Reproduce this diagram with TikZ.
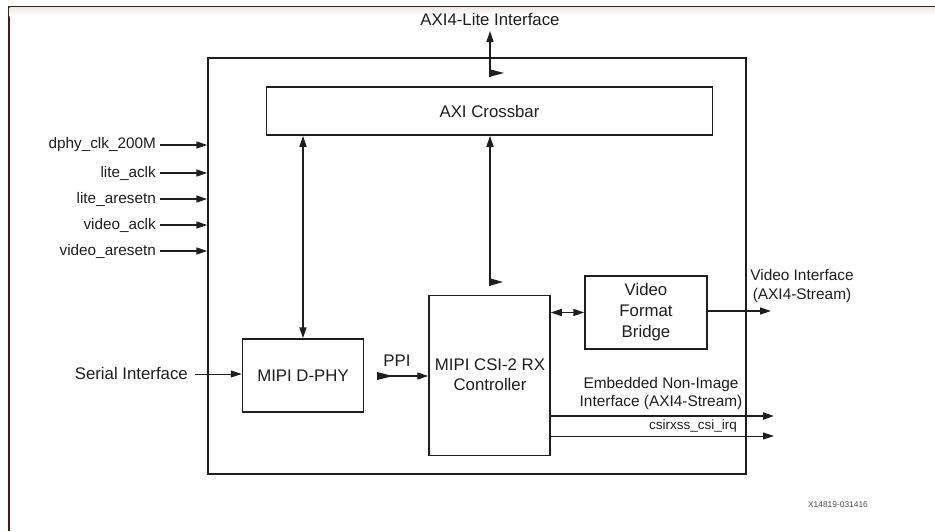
\documentclass[tikz,border=0pt]{standalone}
\usepackage{fontspec}
\setmainfont{Liberation Sans}
\usetikzlibrary{arrows.meta}
\definecolor{frame}{HTML}{4B1A12}
\definecolor{ink}{HTML}{1E1E1E}
\begin{document}
\begin{tikzpicture}[x=1pt,y=-1pt,
  every node/.style={text=ink},
  blk/.style={draw=ink,line width=1.5pt,inner sep=0pt,align=center,font=\fontsize{16.8}{21}\selectfont},
  lbl/.style={inner sep=0pt,font=\fontsize{15.3}{18}\selectfont},
  mlbl/.style={inner sep=0pt,align=center,font=\fontsize{16.8}{19}\selectfont},
  slbl/.style={inner sep=0pt,align=center,font=\fontsize{15.4}{18.5}\selectfont},
  arr/.style={draw=ink,line width=1.5pt,-{Triangle[length=11pt,width=7pt]}},
  darr/.style={draw=ink,line width=1.5pt,{Triangle[length=11pt,width=7pt]}-{Triangle[length=11pt,width=7pt]}},
  quirk/.style={fill=ink,draw=none}]
\useasboundingbox (0,0) rectangle (935,531);
\fill[white] (0,0) rectangle (935,531);
% page frame
\draw[frame,line width=2pt] (8.5,531) -- (8.5,6.5) -- (935,6.5);
\shade[top color=black!8,bottom color=white] (9.5,7.5) rectangle (935,16);

% blocks
\node[blk,minimum width=538pt,minimum height=416pt] (outer) at (477,266) {};
\node[blk,minimum width=446pt,minimum height=48pt] (xbar) at (489.5,111) {AXI Crossbar};
\node[blk,minimum width=121pt,minimum height=73pt] (dphy) at (303,375.5) {MIPI D-PHY};
\node[blk,minimum width=121pt,minimum height=160pt] (csi) at (489.5,375.5) {};
\node[mlbl,font=\fontsize{16.8}{20}\selectfont] (csitxt) at (490,375) {MIPI CSI-2 RX\\Controller};
\node[blk,minimum width=122pt,minimum height=73pt] (vfb) at (646,312.5) {Video\\Format\\Bridge};

% AXI4-Lite
\node[mlbl] (lite) at (490,19) {AXI4-Lite Interface};
\coordinate (litebot) at (490,77);
\coordinate (litetop) at (490,31);
\draw[arr] (litebot) -- (litetop);
\fill[quirk] (489,69) -- (504,73) -- (489,77) -- cycle;

% crossbar <-> D-PHY
\draw[darr] (xbar.south -| dphy.north) -- (dphy.north);
% crossbar -> controller
\coordinate (csiend) at (490,286);
\draw[arr] (csiend) -- (xbar.south -| csiend);
\fill[quirk] (489,278) -- (503,282) -- (489,286) -- cycle;

% left inputs
\foreach \n/\t/\y in {a/dphy\_clk\_200M/145,b/lite\_aclk/173,c/lite\_aresetn/199,d/video\_aclk/225,e/video\_aresetn/251}{
  \node[lbl,anchor=east] (in\n) at (156,\y) {\t};
  \draw[arr] ([xshift=4pt]in\n.east) -- (in\n.east -| outer.west);
}

% serial interface
\node[mlbl,anchor=east] (ser) at (188,373) {Serial Interface};
\draw[arr,line width=1pt] ([xshift=7pt,yshift=-1pt]ser.east) -- ([yshift=-1pt]ser.east -| dphy.west);

% PPI
\node[mlbl] (ppi) at (397,361) {PPI};
\coordinate (ppis) at (378,376);
\draw[arr] (ppis) -- (ppis -| csi.west);
\fill[quirk] (377,372) -- (393,376) -- (377,380) -- cycle;

% controller <-> bridge
\draw[darr] (csi.east |- vfb.west) -- (vfb.west);

% video out
\node[slbl] (vout) at (802,286) {Video Interface\\(AXI4-Stream)};
\coordinate (voutend) at (771,311);
\draw[arr] (vfb.east |- voutend) -- (voutend);

% embedded non-image
\node[slbl] (emb) at (661,393.5) {Embedded Non-Image\\Interface (AXI4-Stream)};
\coordinate (embend) at (774,416);
\draw[arr,line width=2pt] (csi.east |- embend) -- (embend);

% irq
\node[lbl,anchor=east,font=\fontsize{13.5}{16}\selectfont] (irq) at (737,426) {csirxss\_csi\_irq};
\coordinate (irqend) at (774,436);
\draw[arr,line width=1pt] (csi.east |- irqend) -- (irqend);

% figure id
\node[inner sep=0pt,font=\fontsize{8.4}{10}\selectfont,text=black!70] (fid) at (838,505) {X14819-031416};
\end{tikzpicture}
\end{document}
